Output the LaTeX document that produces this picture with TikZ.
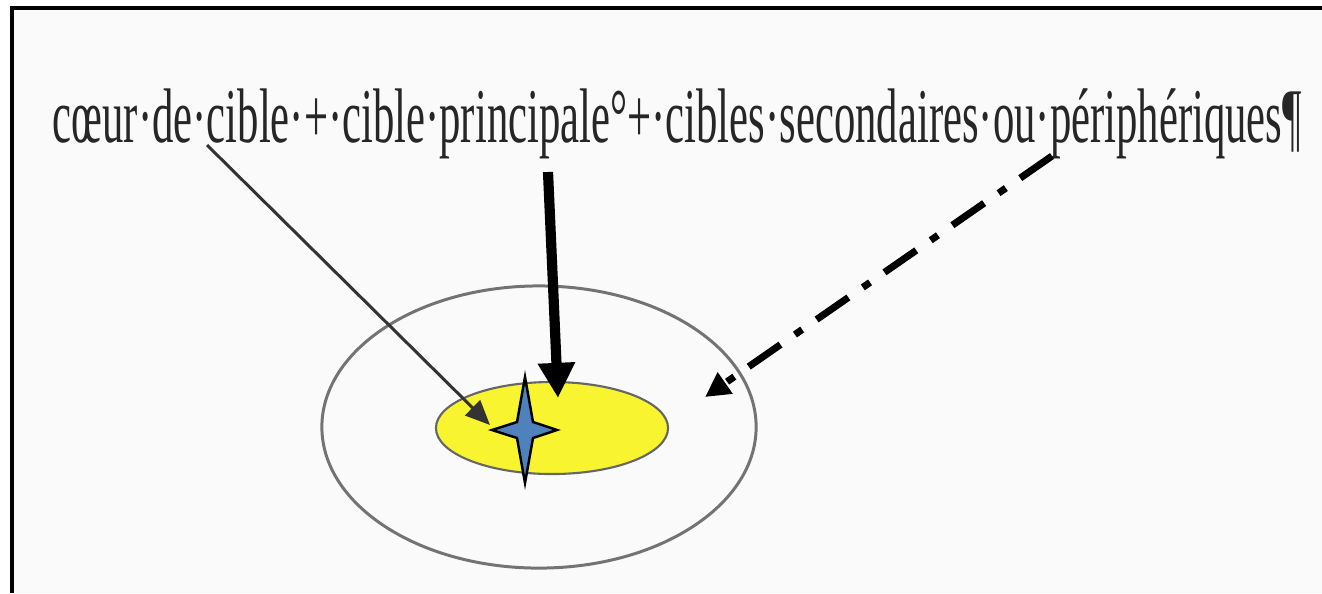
\documentclass[tikz,border=0pt]{standalone}
\usepackage{fontspec}
\setmainfont{Liberation Serif}
\usetikzlibrary{arrows.meta,shapes.geometric}
\definecolor{cibleyellow}{RGB}{248,244,48}
\definecolor{starblue}{RGB}{79,129,189}
\tikzset{
  ringline/.style={draw=black!55, line width=0.85pt},
  thinarrow/.style={draw=black!80, line width=0.85pt, -{Triangle[length=7pt,width=6pt]}},
  thickarrow/.style={draw=black, line width=2.9pt, -{Triangle[length=10pt,width=10pt]}},
  dotarrow/.style={draw=black, line width=2pt, dash pattern=on 11pt off 5pt on 2.5pt off 5pt, -{Triangle[length=7pt,width=7pt]}}
}
\begin{document}
\begin{tikzpicture}[x=0.01cm,y=-0.01cm]
    \useasboundingbox (0,0) rectangle (1322,593);
    % Frame
    \fill[black!2] (12,8) rectangle (1322,593);
    \draw[line width=0.9pt] (1322,8) -- (12,8) -- (12,593);

    % Title text
    \node[anchor=base west, inner sep=0pt, text=black!85] (title) at (52,142)
        {\scalebox{0.552}[1]{\fontsize{22}{26}\selectfont cœur·de·cible·+·cible·principale°+·cibles·secondaires·ou·périphériques¶}};

    % Target rings
    \node[ellipse, ringline, minimum width=4.34cm, minimum height=2.82cm, inner sep=0pt] (outer) at (539,427) {};
    \node[ellipse, draw=black!60, line width=0.6pt, fill=cibleyellow, minimum width=2.32cm, minimum height=0.92cm, inner sep=0pt] (inner) at (552,428) {};

    % Star (core)
    \coordinate (core) at (525,430);
    \draw[fill=starblue, line width=0.7pt]
        (525,377) -- (533,422) -- (557,430) -- (533,438) -- (525,483)
        -- (517,438) -- (492,430) -- (517,422) -- cycle;

    % Arrows
    \coordinate (coeur) at (207,145);
    \coordinate (coeurtip) at (490,425);
    \coordinate (princ) at (548,172);
    \coordinate (princtip) at (558,398);
    \coordinate (peri) at (1052,156);
    \coordinate (peritip) at (705,397);
    \draw[thinarrow] (coeur) -- (coeurtip);
    \draw[thickarrow] (princ) -- (princtip);
    \draw[dotarrow] (peri) -- (peritip);
\end{tikzpicture}
\end{document}
